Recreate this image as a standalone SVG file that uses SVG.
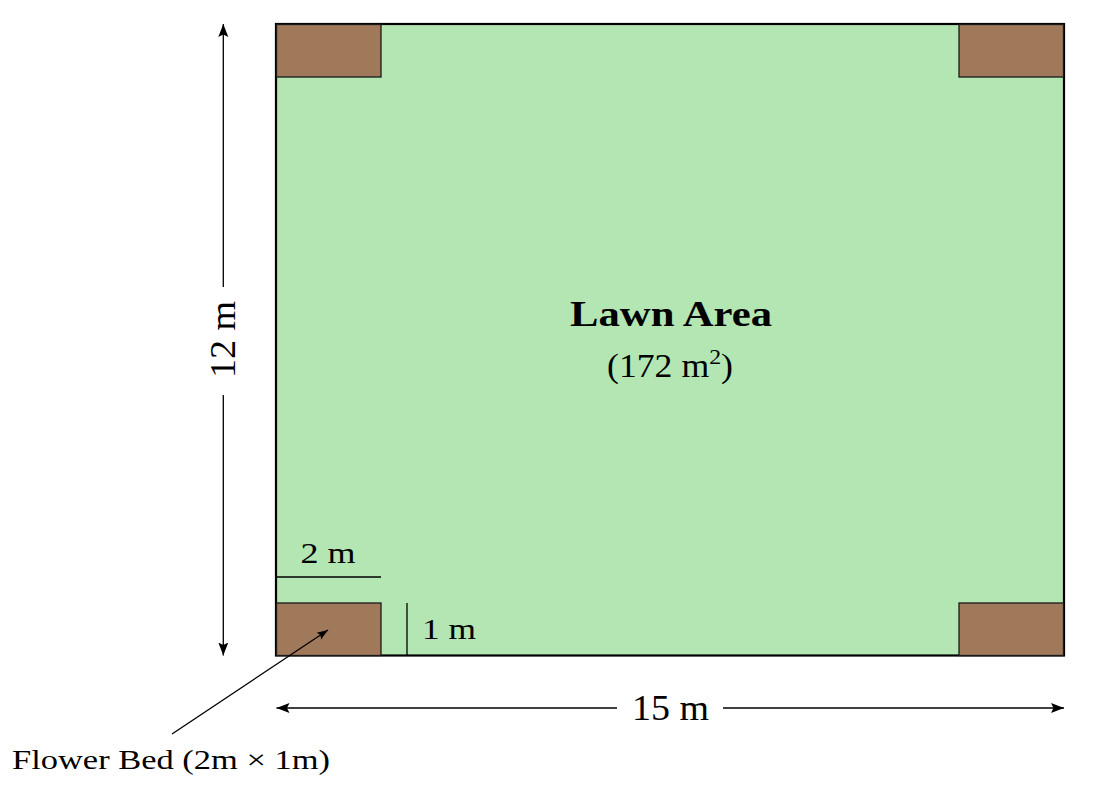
<svg xmlns="http://www.w3.org/2000/svg" width="1102" height="804" viewBox="0 0 1102 804">
<style>
.lbl{font-family:"Liberation Serif","Times New Roman",serif;fill:#000}
.dim{stroke:#000;stroke-width:1.3;fill:none}
.bed{fill:#a0785a;stroke:#1a1a1a;stroke-width:1.3}
</style>
<defs>
<marker id="ah" markerUnits="userSpaceOnUse" markerWidth="14" markerHeight="12" refX="13" refY="5.5" orient="auto">
<path d="M0,0.5 L13,5.5 L0,10.5 L2.5,5.5 z" fill="#000"/>
</marker>
<marker id="ahs" markerUnits="userSpaceOnUse" markerWidth="12" markerHeight="10" refX="11" refY="4.5" orient="auto">
<path d="M0,0.5 L11,4.5 L0,8.5 L2,4.5 z" fill="#000"/>
</marker>
</defs>
<rect width="1102" height="804" fill="#fff"/>
<g id="lawn">
<rect x="276" y="24" width="788" height="631.5" fill="#b3e6b3" stroke="#000" stroke-width="2.2"/>
<text class="lbl" x="671" y="326" font-size="36" font-weight="bold" text-anchor="middle" textLength="202" lengthAdjust="spacingAndGlyphs">Lawn Area</text>
<text class="lbl" x="670" y="377" font-size="33" text-anchor="middle" textLength="126" lengthAdjust="spacingAndGlyphs">(172 m<tspan font-size="22" dy="-13">2</tspan><tspan dy="13">)</tspan></text>
</g>
<g id="bed-tl"><rect class="bed" x="276.5" y="24.5" width="104.5" height="52.5"/></g>
<g id="bed-tr"><rect class="bed" x="959" y="24.5" width="104.5" height="52.5"/></g>
<g id="bed-bl"><rect class="bed" x="276.5" y="603" width="104.5" height="52.5"/></g>
<g id="bed-br"><rect class="bed" x="959" y="603" width="104.5" height="52.5"/></g>
<g id="connectors">
<path class="dim" d="M223.3,287 V24" marker-end="url(#ah)"/>
<path class="dim" d="M223.3,395 V655.5" marker-end="url(#ah)"/>
<path class="dim" d="M617,708 H276.5" marker-end="url(#ah)"/>
<path class="dim" d="M723,708 H1064" marker-end="url(#ah)"/>
<path class="dim" d="M276,577 H381"/>
<path class="dim" d="M407,603 V655"/>
<path class="dim" d="M172,734 L328,630" marker-end="url(#ahs)"/>
</g>
<g id="labels">
<text class="lbl" x="235" y="339.5" font-size="36" text-anchor="middle" textLength="77" lengthAdjust="spacingAndGlyphs" transform="rotate(-90 235 339.5)">12 m</text>
<text class="lbl" x="670.5" y="720" font-size="36" text-anchor="middle" textLength="77" lengthAdjust="spacingAndGlyphs">15 m</text>
<text class="lbl" x="328" y="563" font-size="30" text-anchor="middle" textLength="55" lengthAdjust="spacingAndGlyphs">2 m</text>
<text class="lbl" x="422" y="639" font-size="30" textLength="54" lengthAdjust="spacingAndGlyphs">1 m</text>
<text class="lbl" x="12" y="769" font-size="27" textLength="318" lengthAdjust="spacingAndGlyphs">Flower Bed (2m × 1m)</text>
</g>
</svg>
